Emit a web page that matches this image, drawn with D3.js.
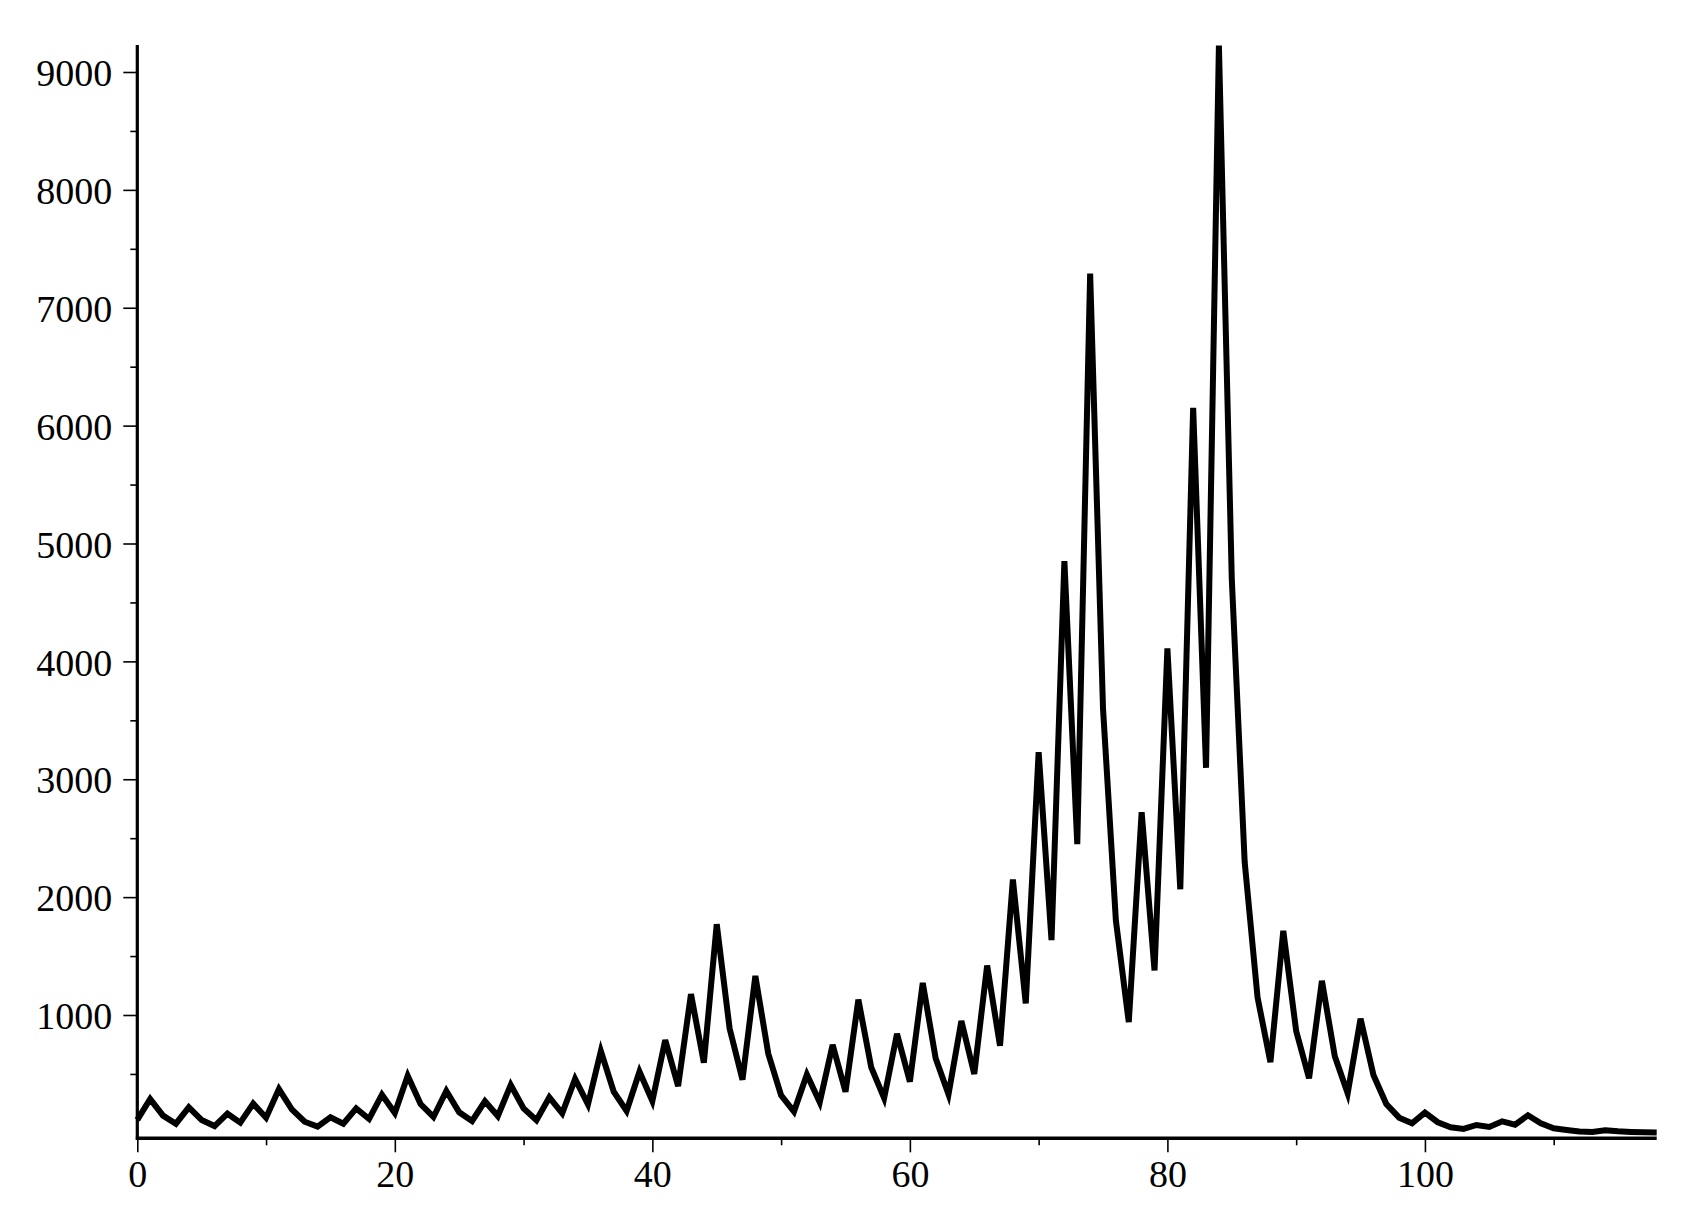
<!DOCTYPE html>
<html>
<head>
<meta charset="utf-8">
<script src="https://cdn.jsdelivr.net/npm/d3@7/dist/d3.min.js"></script>
<style>
  html, body { margin: 0; padding: 0; background: #fff; }
  svg text { font-family: "Liberation Serif", "Times New Roman", serif; fill: #000; }
</style>
</head>
<body>
<svg id="chart" width="1690" height="1220"></svg>
<script>
// Data
const xValues = d3.range(0, 119);
const yValues = [
  110, 287, 146, 78, 217, 109, 58, 163, 87, 248,
  129, 372, 200, 95, 53, 132, 78, 208, 118, 324,
  169, 485, 245, 135, 355, 174, 101, 268, 143, 406,
  208, 107, 301, 166, 457, 242, 694, 349, 186, 519,
  270, 787, 397, 1177, 595, 1770, 886, 451, 1332, 673,
  319, 181, 495, 260, 747, 349, 1130, 555, 295, 841,
  434, 1272, 634, 327, 950, 500, 1420, 738, 2150, 1098,
  3230, 1636, 4850, 2450, 7290, 3600, 1800, 940, 2720, 1378,
  4110, 2067, 6150, 3097, 9225, 4700, 2300, 1150, 600, 1714,
  864, 463, 1290, 650, 336, 969, 491, 245, 129, 81,
  172, 90, 47, 33, 67, 50, 98, 70, 149, 81,
  39, 25, 11, 8, 22, 13, 8, 5, 3
];
const xTickLabels = [0, 20, 40, 60, 80, 100];
const xMinorTicks = [10, 30, 50, 70, 90, 110];
const yTickLabels = [1000, 2000, 3000, 4000, 5000, 6000, 7000, 8000, 9000];
const yMinorTicks = [500, 1500, 2500, 3500, 4500, 5500, 6500, 7500, 8500];

const svg = d3.select("#chart");
const x = d3.scaleLinear().domain([0, 118]).range([137.3, 1656.7]);
const y = d3.scaleLinear().domain([-46, 9229]).range([1138.3, 45]);

// Y axis
const yAxis = d3.axisLeft(y).tickValues(yTickLabels).tickSize(14).tickPadding(11).tickFormat(d3.format("d"));
const gy = svg.append("g").attr("transform", `translate(${x(0)},0)`).call(yAxis);
gy.select(".domain").remove();
gy.selectAll(".tick line").attr("stroke", "#000").attr("stroke-width", 1.6);
gy.selectAll(".tick text").attr("font-size", 38).attr("dy", "0.36em");
const gyMinor = svg.append("g").attr("transform", `translate(${x(0)},0)`)
  .call(d3.axisLeft(y).tickValues(yMinorTicks).tickSize(7).tickFormat(""));
gyMinor.select(".domain").remove();
gyMinor.selectAll(".tick line").attr("stroke", "#000").attr("stroke-width", 1.6);

// X axis
const xAxis = d3.axisBottom(x).tickValues(xTickLabels).tickSize(14).tickPadding(8).tickFormat(d3.format("d"));
const gx = svg.append("g").attr("transform", `translate(0,${y(-46)})`).call(xAxis);
gx.select(".domain").remove();
gx.selectAll(".tick line").attr("stroke", "#000").attr("stroke-width", 1.6);
gx.selectAll(".tick text").attr("font-size", 38);
const gxMinor = svg.append("g").attr("transform", `translate(0,${y(-46)})`)
  .call(d3.axisBottom(x).tickValues(xMinorTicks).tickSize(7).tickFormat(""));
gxMinor.select(".domain").remove();
gxMinor.selectAll(".tick line").attr("stroke", "#000").attr("stroke-width", 1.6);

// Axis lines
svg.append("line").attr("x1", x(0)).attr("x2", x(0)).attr("y1", y(9229)).attr("y2", y(-46) + 1.5)
  .attr("stroke", "#000").attr("stroke-width", 3.2);
svg.append("line").attr("x1", x(0) - 1.5).attr("x2", x(118)).attr("y1", y(-46)).attr("y2", y(-46))
  .attr("stroke", "#000").attr("stroke-width", 3.5);

// Data line
const line = d3.line().x((d, i) => x(xValues[i])).y(d => y(d));
svg.append("path").datum(yValues).attr("d", line)
  .attr("fill", "none").attr("stroke", "#000").attr("stroke-width", 6)
  .attr("stroke-linejoin", "miter").attr("stroke-miterlimit", 4);
</script>
</body>
</html>
